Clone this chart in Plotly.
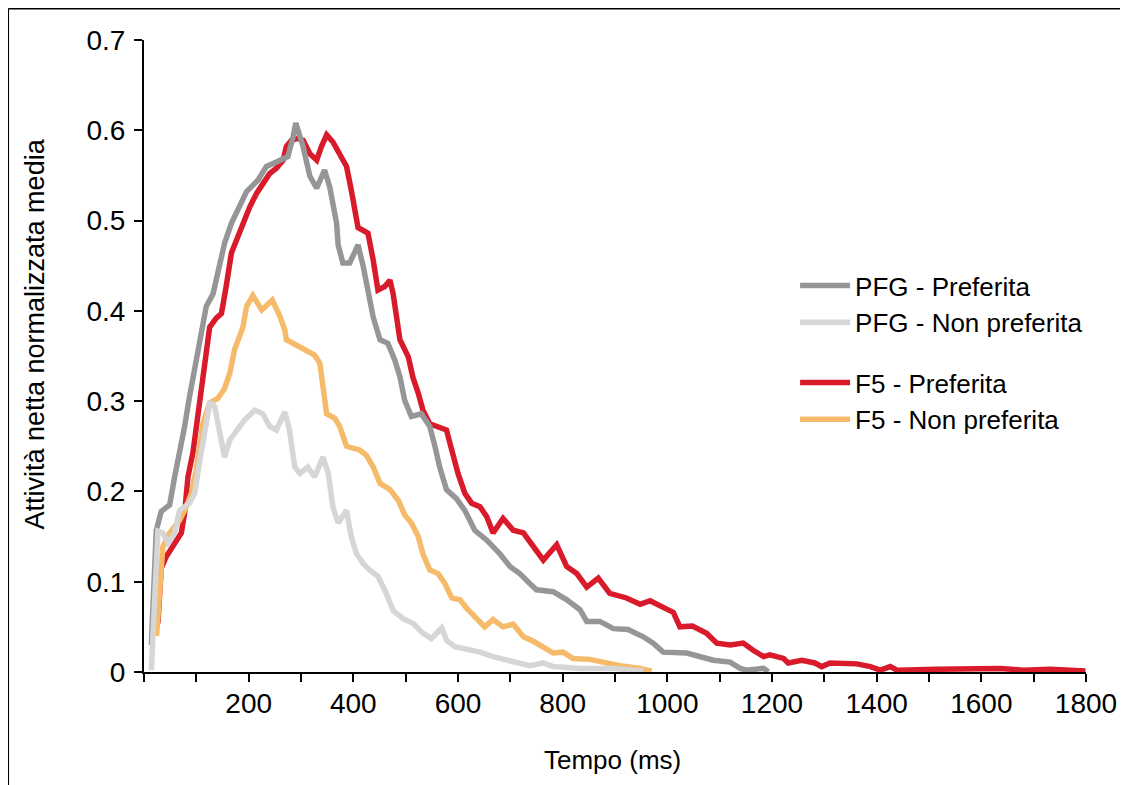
import plotly.graph_objects as go

# ---------------- data ----------------
pfg_pref_t = [14, 23.5, 33, 49, 58.5, 68, 77.6, 87, 96.8, 106, 119, 132, 141, 154, 167, 180, 196, 218, 234, 253,
              275, 285, 290, 304, 317, 330, 345, 355, 368, 371, 380, 393, 409, 419, 428, 438, 451, 466, 479, 489,
              498, 511, 530, 546, 556, 565, 578, 597, 613, 632, 655, 680, 699, 718, 737, 750, 782, 808, 833, 846,
              871, 897, 925, 954, 973, 992, 1037, 1088, 1120, 1139, 1152, 1184, 1193]
pfg_pref_v = [0.03, 0.157, 0.178, 0.185, 0.216, 0.243, 0.272, 0.305, 0.334, 0.364, 0.405, 0.419, 0.441, 0.475,
              0.497, 0.514, 0.532, 0.545, 0.560, 0.565, 0.571, 0.593, 0.608, 0.582, 0.549, 0.536, 0.556, 0.537,
              0.497, 0.473, 0.453, 0.453, 0.473, 0.449, 0.423, 0.393, 0.368, 0.364, 0.346, 0.327, 0.301, 0.283,
              0.286, 0.272, 0.250, 0.227, 0.202, 0.192, 0.179, 0.157, 0.146, 0.131, 0.117, 0.109, 0.098, 0.091,
              0.089, 0.080, 0.069, 0.056, 0.056, 0.048, 0.047, 0.039, 0.032, 0.022, 0.021, 0.013, 0.011, 0.004,
              0.002, 0.004, 0.0]

pfg_nonpref_t = [14, 20, 26.6, 36, 45.7, 58.5, 68, 87, 97, 106, 116, 126, 135, 144.6, 154, 164, 176.5, 192, 211.5,
                 227, 240, 253, 269, 278, 288, 298, 313, 326, 342, 352, 361, 371, 387, 396, 406, 419, 431, 447,
                 463, 476, 495, 514, 533, 549, 569, 578, 594, 616, 642, 667, 705.5, 737, 763, 782, 833, 897, 935,
                 954]
pfg_nonpref_v = [0.002, 0.072, 0.156, 0.154, 0.143, 0.154, 0.179, 0.187, 0.198, 0.232, 0.268, 0.299, 0.294, 0.264,
                 0.238, 0.257, 0.268, 0.279, 0.290, 0.286, 0.272, 0.268, 0.288, 0.268, 0.227, 0.220, 0.227, 0.216,
                 0.238, 0.220, 0.183, 0.165, 0.179, 0.150, 0.131, 0.120, 0.113, 0.106, 0.087, 0.068, 0.059, 0.054,
                 0.043, 0.037, 0.049, 0.035, 0.028, 0.025, 0.022, 0.017, 0.011, 0.007, 0.010, 0.006, 0.004, 0.004,
                 0.002, 0.001]

f5_pref_t = [26.6, 33, 42.6, 55.3, 71.3, 77.6, 84, 93.5, 100, 109.6, 116, 122, 125.5, 138, 148, 157, 167, 176.5,
             189, 202, 215, 227, 240, 253, 266, 272, 282, 294, 304, 317, 330, 339, 349, 361, 374, 387, 396, 403,
             409, 419, 428, 438, 447, 460, 470, 476, 482.5, 489, 505, 514, 524, 533, 546, 562, 578, 588, 600, 613,
             626, 642, 655, 667, 686, 705.5, 725, 744, 763, 788.5, 807.6, 827, 846, 868, 890, 922, 948, 967, 992,
             1011.5, 1024, 1048, 1075, 1094.5, 1120, 1145, 1164, 1184, 1196, 1222, 1231, 1257, 1282, 1295, 1311,
             1362, 1388, 1407, 1426, 1439, 1515, 1579, 1636, 1680, 1732, 1799]
f5_pref_v = [0.054, 0.115, 0.128, 0.139, 0.154, 0.176, 0.216, 0.243, 0.272, 0.309, 0.338, 0.364, 0.382, 0.392,
             0.397, 0.427, 0.464, 0.478, 0.497, 0.515, 0.530, 0.541, 0.552, 0.558, 0.567, 0.582, 0.589, 0.591,
             0.589, 0.574, 0.567, 0.582, 0.595, 0.587, 0.574, 0.560, 0.534, 0.508, 0.492, 0.489, 0.486, 0.456,
             0.423, 0.427, 0.434, 0.419, 0.393, 0.368, 0.349, 0.326, 0.309, 0.290, 0.275, 0.272, 0.268, 0.246,
             0.220, 0.198, 0.187, 0.183, 0.172, 0.154, 0.170, 0.157, 0.154, 0.139, 0.124, 0.141, 0.117, 0.109,
             0.094, 0.104, 0.087, 0.082, 0.075, 0.079, 0.071, 0.066, 0.050, 0.051, 0.043, 0.032, 0.030, 0.032,
             0.024, 0.017, 0.019, 0.015, 0.010, 0.013, 0.010, 0.006, 0.010, 0.009, 0.006, 0.002, 0.006, 0.002,
             0.003, 0.004, 0.004, 0.002, 0.003, 0.001]

f5_nonpref_t = [24, 33, 36, 49, 68, 81, 90.5, 100, 106, 112.6, 125.5, 141, 154, 164, 173, 183, 189, 196, 208,
                225, 245, 259, 269, 272, 304, 326, 336, 342, 349, 364.5, 374, 387, 412, 425, 438, 451, 470, 486,
                498, 511, 524, 533, 546, 562, 575, 588, 604, 616, 635.5, 651, 667, 686, 705.5, 725, 744, 763, 782,
                801, 820, 852, 884, 909.5, 948, 970]
f5_nonpref_v = [0.04, 0.124, 0.139, 0.154, 0.168, 0.183, 0.198, 0.224, 0.250, 0.275, 0.298, 0.303, 0.314, 0.331,
                0.357, 0.375, 0.382, 0.405, 0.417, 0.401, 0.412, 0.395, 0.379, 0.368, 0.358, 0.351, 0.342, 0.312,
                0.286, 0.281, 0.272, 0.250, 0.246, 0.240, 0.227, 0.209, 0.202, 0.190, 0.174, 0.165, 0.150, 0.131,
                0.113, 0.109, 0.098, 0.082, 0.080, 0.071, 0.059, 0.050, 0.058, 0.050, 0.053, 0.039, 0.034, 0.027,
                0.021, 0.022, 0.015, 0.014, 0.010, 0.007, 0.004, 0.001]

series_names = ["PFG - Preferita", "PFG - Non preferita", "F5 - Preferita", "F5 - Non preferita"]
series_colors = ["#969698", "#d6d6d6", "#d91a2a", "#f5bb6b"]

x_tickvals = list(range(0, 1801, 100))
x_ticktext = ["" if (v == 0 or v % 200) else str(v) for v in x_tickvals]
y_tickvals = [0, 0.1, 0.2, 0.3, 0.4, 0.5, 0.6, 0.7]
y_ticktext = ["0", "0.1", "0.2", "0.3", "0.4", "0.5", "0.6", "0.7"]

x_title = "Tempo (ms)"
y_title = "Attività netta normalizzata media"

FONT = "Liberation Sans, Arial, Helvetica, sans-serif"

fig = go.Figure()
# drawing order: F5 below, PFG on top
order = [(2, f5_pref_t, f5_pref_v, "legend2"),
         (3, f5_nonpref_t, f5_nonpref_v, "legend2"),
         (0, pfg_pref_t, pfg_pref_v, "legend"),
         (1, pfg_nonpref_t, pfg_nonpref_v, "legend")]
for idx, t, v, lg in order:
    fig.add_trace(go.Scatter(x=t, y=v, mode="lines", name=series_names[idx],
                             line=dict(color=series_colors[idx], width=5.5),
                             legend=lg, legendgroup=series_names[idx]))

# page offset (body margin) compensation
OFF = 8
L, R, T, B = 144.4 - OFF, 1085.7 - OFF, 40 - OFF, 672 - OFF
W, H = 1128 - OFF, 785 - OFF


def px2x(p):
    return (p - OFF - L) / (R - L)


def px2y(p):
    return (B - (p - OFF)) / (B - T)


legend_common = dict(font=dict(family=FONT, size=26, color="#000000"), bgcolor="rgba(0,0,0,0)",
                     tracegroupgap=11, itemwidth=50, xanchor="left", yanchor="middle",
                     traceorder="normal")

frame_style = dict(color="#000000", width=1.5)
fx0, fy0, fx1, fy1 = px2x(8.8), px2y(8.8), px2x(1125), px2y(800)

fig.update_layout(
    width=W, height=H,
    margin=dict(l=L, r=W - R, t=T, b=H - B, pad=0),
    paper_bgcolor="white", plot_bgcolor="white",
    font=dict(family=FONT, color="#000000"),
    showlegend=True,
    legend=dict(x=px2x(795), y=px2y(304), **legend_common),
    legend2=dict(x=px2x(795), y=px2y(401), **legend_common),
    xaxis=dict(range=[0, 1800], showgrid=False, zeroline=False, showline=True, linecolor="#000000",
               linewidth=2, ticks="outside", ticklen=8, tickwidth=2, tickcolor="#000000",
               ticklabelstandoff=-3,
               tickvals=x_tickvals, ticktext=x_ticktext, tickfont=dict(family=FONT, size=28, color="#000000")),
    yaxis=dict(range=[0, 0.7], showgrid=False, zeroline=False, showline=True, linecolor="#000000",
               linewidth=2, ticks="outside", ticklen=8, tickwidth=2, tickcolor="#000000",
               ticklabelstandoff=3,
               tickvals=y_tickvals, ticktext=y_ticktext, tickfont=dict(family=FONT, size=28, color="#000000")),
    annotations=[
        dict(text=x_title, xref="paper", yref="paper", x=px2x(612.5), y=px2y(760), showarrow=False,
             xanchor="center", yanchor="middle", font=dict(family=FONT, size=26, color="#000000")),
        dict(text=y_title, xref="paper", yref="paper", x=px2x(35), y=px2y(334), showarrow=False,
             textangle=-90, xanchor="center", yanchor="middle", font=dict(family=FONT, size=27, color="#000000")),
    ],
    shapes=[
        dict(type="line", xref="paper", yref="paper", x0=fx0, x1=fx0, y0=fy1, y1=fy0, line=frame_style,
             layer="above"),
        dict(type="line", xref="paper", yref="paper", x0=fx0, x1=fx1, y0=fy0, y1=fy0, line=frame_style,
             layer="above"),
        dict(type="line", xref="paper", yref="paper", x0=fx1, x1=fx1, y0=fy1, y1=fy0, line=frame_style,
             layer="above"),
    ],
)

fig.write_html("out.html")
